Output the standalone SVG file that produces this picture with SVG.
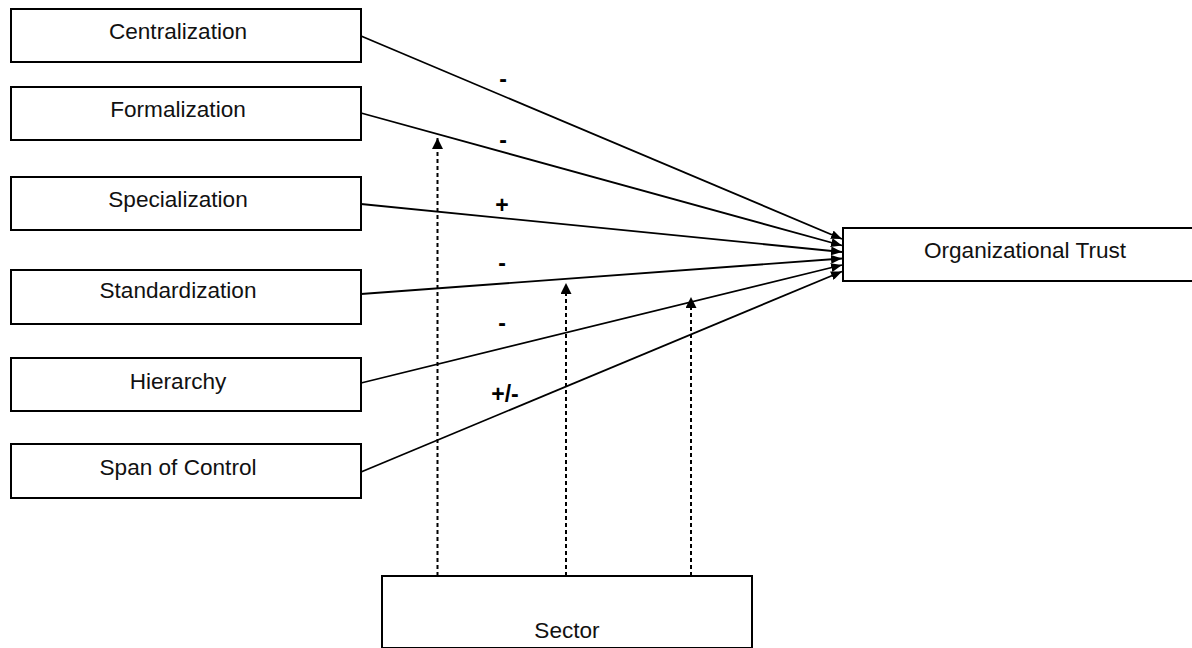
<svg xmlns="http://www.w3.org/2000/svg" width="1192" height="648" viewBox="0 0 1192 648">
<style>
.box{fill:#fff;stroke:#000;stroke-width:2}
.lbl{font-family:"Liberation Sans",Arial,Helvetica,sans-serif;font-size:22.6px;fill:#111;text-anchor:middle}
.sign{font-family:"Liberation Sans",Arial,Helvetica,sans-serif;font-size:23px;font-weight:bold;fill:#000;text-anchor:middle}
.edge{stroke:#000;stroke-width:1.8;fill:none}
.dash{stroke:#000;stroke-width:2;fill:none;stroke-dasharray:4 3}
</style>
<defs>
<marker id="arr" markerUnits="userSpaceOnUse" viewBox="0 0 11 9" refX="11" refY="4.5" markerWidth="11" markerHeight="9" orient="auto">
<path d="M0,0 L11,4.5 L0,9 z" fill="#000"/>
</marker>
<marker id="arrd" markerUnits="userSpaceOnUse" viewBox="0 0 11 11" refX="11" refY="5.5" markerWidth="11" markerHeight="11" orient="auto">
<path d="M0,0 L11,5.5 L0,11 z" fill="#000"/>
</marker>
</defs>
<rect width="1192" height="648" fill="#fff"/>
<g id="centralization"><rect class="box" x="11" y="9" width="350" height="53"/><text class="lbl" x="178" y="39">Centralization</text></g>
<g id="formalization"><rect class="box" x="11" y="87" width="350" height="53"/><text class="lbl" x="178" y="117">Formalization</text></g>
<g id="specialization"><rect class="box" x="11" y="177" width="350" height="53"/><text class="lbl" x="178" y="207">Specialization</text></g>
<g id="standardization"><rect class="box" x="11" y="270" width="350" height="54"/><text class="lbl" x="178" y="298">Standardization</text></g>
<g id="hierarchy"><rect class="box" x="11" y="358" width="350" height="53"/><text class="lbl" x="178" y="389">Hierarchy</text></g>
<g id="span"><rect class="box" x="11" y="444" width="350" height="54"/><text class="lbl" x="178" y="475">Span of Control</text></g>
<g id="trust"><rect class="box" x="843" y="228" width="352" height="53"/><text class="lbl" x="1025" y="258">Organizational Trust</text></g>
<g id="sector"><rect class="box" x="382" y="576" width="370" height="72"/><text class="lbl" x="567" y="638">Sector</text></g>
<g id="connectors">
<line class="edge" x1="361" y1="36" x2="842" y2="239" marker-end="url(#arr)"/>
<line class="edge" x1="361" y1="113" x2="842" y2="245.5" marker-end="url(#arr)"/>
<line class="edge" x1="361" y1="204" x2="842" y2="252" marker-end="url(#arr)"/>
<line class="edge" x1="361" y1="294" x2="842" y2="258.5" marker-end="url(#arr)"/>
<line class="edge" x1="361" y1="383" x2="842" y2="265" marker-end="url(#arr)"/>
<line class="edge" x1="361" y1="472" x2="842" y2="271.5" marker-end="url(#arr)"/>
<line class="dash" x1="437.5" y1="576" x2="437.5" y2="138" marker-end="url(#arrd)"/>
<line class="dash" x1="566" y1="576" x2="566" y2="283" marker-end="url(#arrd)"/>
<line class="dash" x1="691" y1="576" x2="691" y2="297" marker-end="url(#arrd)"/>
</g>
<g id="labels">
<text class="sign" x="503" y="87">-</text>
<text class="sign" x="503" y="148">-</text>
<text class="sign" x="502" y="213">+</text>
<text class="sign" x="502" y="271">-</text>
<text class="sign" x="502" y="331">-</text>
<text class="sign" x="505" y="402">+/-</text>
</g>
</svg>
